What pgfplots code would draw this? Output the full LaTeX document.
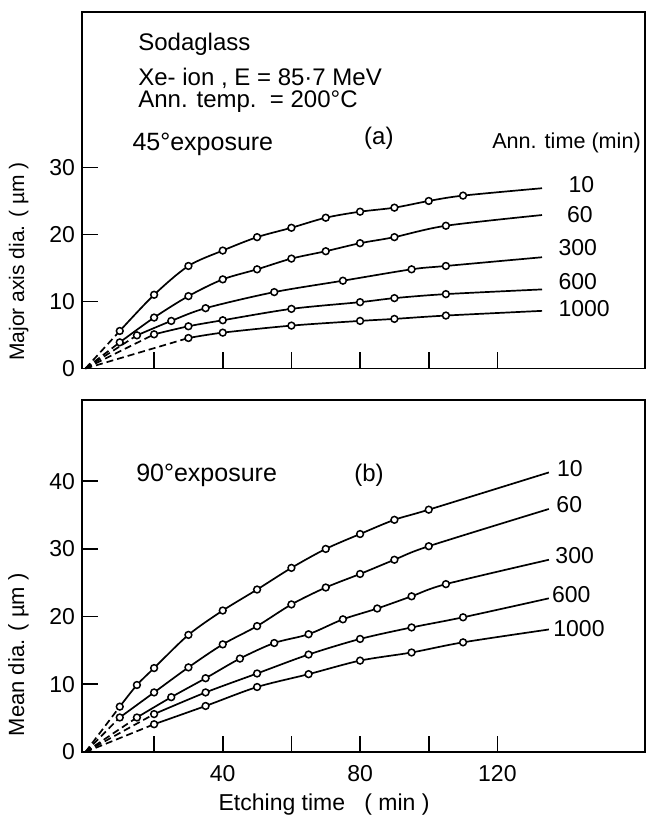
\documentclass[border=0pt]{standalone}
\usepackage{fontspec}
\setmainfont{Liberation Sans}
\usepackage{pgfplots}
\pgfplotsset{compat=1.18}
\begin{document}
\begin{tikzpicture}
\useasboundingbox (0pt,0pt) rectangle (323pt,409pt);
\pgfplotsset{
  panel/.style={
    scale only axis, width=281.5pt,
    xmin=-1, xmax=163,
    axis line style={line width=0.85pt},
    tick align=inside, major tick length=8pt,
    xtick pos=bottom, ytick pos=left,
    tick style={line width=0.85pt, black},
    xtick={20,40,...,120},
    ticklabel style={font=\fontsize{11.5}{12}\selectfont},
    /pgf/number format/assume math mode=true,
    clip=false,
  },
  crv/.style={smooth, no marks, solid, line width=0.85pt, black},
  dsh/.style={no marks, line width=0.85pt, black, dash pattern=on 3.5pt off 2pt},
  pts/.style={only marks, mark=*, mark size=1.7pt, mark options={fill=white, draw=black, solid, line width=0.75pt}},
}
\tikzset{
  lab/.style={anchor=west, inner sep=0pt, font=\fontsize{11.5}{12}\selectfont},
  txt/.style={anchor=base west, inner sep=0pt, font=\fontsize{12}{14}\selectfont},
}
% ---------------- top panel (a) ----------------
\begin{axis}[panel, at={(41pt,224.75pt)}, anchor=south west, height=178.25pt,
  ymin=0, ymax=53.2, ytick={0,10,20,30}, xticklabels={},
  ylabel={Major axis dia. ( µm )},
  ylabel style={at={(axis description cs:-0.103,0.30)}, anchor=base, font=\fontsize{10.5}{12}\selectfont}]
% 10 min
\addplot[dsh] coordinates {(0,0) (10,5.6)};
\addplot[crv] coordinates {(10,5.6) (20,11.0) (30,15.3) (40,17.6) (50,19.6) (60,21.0) (70,22.5) (80,23.4) (90,24.0) (100,25.0) (110,25.8) (133,26.9)};
\addplot[pts] coordinates {(10,5.6) (20,11.0) (30,15.3) (40,17.6) (50,19.6) (60,21.0) (70,22.5) (80,23.4) (90,24.0) (100,25.0) (110,25.8)};
% 60 min
\addplot[dsh] coordinates {(0,0) (10,3.9)};
\addplot[crv] coordinates {(10,3.9) (20,7.6) (30,10.8) (40,13.3) (50,14.8) (60,16.4) (70,17.5) (80,18.7) (90,19.6) (105,21.3) (133,22.9)};
\addplot[pts] coordinates {(10,3.9) (20,7.6) (30,10.8) (40,13.3) (50,14.8) (60,16.4) (70,17.5) (80,18.7) (90,19.6) (105,21.3)};
% 300 min
\addplot[dsh] coordinates {(0,0) (15,4.95)};
\addplot[crv] coordinates {(15,4.95) (25,7.1) (35,9.0) (55,11.4) (75,13.1) (95,14.8) (105,15.3) (133,16.6)};
\addplot[pts] coordinates {(15,4.95) (25,7.1) (35,9.0) (55,11.4) (75,13.1) (95,14.8) (105,15.3)};
% 600 min
\addplot[dsh] coordinates {(0,0) (20,5.1)};
\addplot[crv] coordinates {(20,5.1) (30,6.3) (40,7.2) (60,8.9) (80,9.9) (90,10.5) (105,11.1) (133,11.8)};
\addplot[pts] coordinates {(20,5.1) (30,6.3) (40,7.2) (60,8.9) (80,9.9) (90,10.5) (105,11.1)};
% 1000 min
\addplot[dsh] coordinates {(0,0) (30,4.55)};
\addplot[crv] coordinates {(30,4.55) (40,5.35) (60,6.4) (80,7.1) (90,7.4) (105,7.9) (133,8.6)};
\addplot[pts] coordinates {(30,4.55) (40,5.35) (60,6.4) (80,7.1) (90,7.4) (105,7.9)};
% texts
\node[txt] at (axis cs:15.3,47.5) {Sodaglass};
\node[txt] at (axis cs:15.3,42.3) {Xe- ion , E = 85·7 MeV};
\node[txt] at (axis cs:15.3,39.0) {Ann. temp.\ \ = 200°C};
\node[txt, font=\fontsize{12.5}{14}\selectfont] at (axis cs:13.6,32.6) {45°exposure};
\node[txt] at (axis cs:81.1,33.4) {(a)};
\node[anchor=base west, inner sep=0pt, font=\fontsize{10.8}{12}\selectfont] at (axis cs:118.4,32.9) {Ann. time (min)};
\node[lab] at (axis cs:140.6,27.4) {10};
\node[lab] at (axis cs:140.2,22.9) {60};
\node[lab] at (axis cs:137.7,18.0) {300};
\node[lab] at (axis cs:137.7,13.0) {600};
\node[lab] at (axis cs:137.7,9.0) {1000};
\end{axis}
% ---------------- bottom panel (b) ----------------
\begin{axis}[panel, at={(41pt,33pt)}, anchor=south west, height=176pt,
  ymin=0, ymax=52, ytick={0,10,20,30,40}, xticklabels={,40,,80,,120},
  xticklabel style={yshift=-3pt},
  ylabel={Mean dia. ( µm )},
  ylabel style={at={(axis description cs:-0.103,0.276)}, anchor=base, font=\fontsize{11}{12}\selectfont},
  xlabel={Etching time\ \ \ ( min )},
  xlabel style={at={(axis description cs:0.43,-0.165)}, anchor=base, font=\fontsize{11.5}{12}\selectfont}]
% 10 min
\addplot[dsh] coordinates {(0,0) (10,6.7)};
\addplot[crv] coordinates {(10,6.7) (15,9.9) (20,12.4) (30,17.3) (40,20.9) (50,24.0) (60,27.2) (70,30.0) (80,32.2) (90,34.3) (100,35.8) (135,41.3)};
\addplot[pts] coordinates {(10,6.7) (15,9.9) (20,12.4) (30,17.3) (40,20.9) (50,24.0) (60,27.2) (70,30.0) (80,32.2) (90,34.3) (100,35.8)};
% 60 min
\addplot[dsh] coordinates {(0,0) (10,5.1)};
\addplot[crv] coordinates {(10,5.1) (20,8.8) (30,12.5) (40,15.9) (50,18.6) (60,21.8) (70,24.3) (80,26.3) (90,28.4) (100,30.4) (135,35.9)};
\addplot[pts] coordinates {(10,5.1) (20,8.8) (30,12.5) (40,15.9) (50,18.6) (60,21.8) (70,24.3) (80,26.3) (90,28.4) (100,30.4)};
% 300 min
\addplot[dsh] coordinates {(0,0) (15,5.1)};
\addplot[crv] coordinates {(15,5.1) (25,8.1) (35,10.9) (45,13.8) (55,16.1) (65,17.4) (75,19.6) (85,21.2) (95,23.0) (105,24.8) (135,28.4)};
\addplot[pts] coordinates {(15,5.1) (25,8.1) (35,10.9) (45,13.8) (55,16.1) (65,17.4) (75,19.6) (85,21.2) (95,23.0) (105,24.8)};
% 600 min
\addplot[dsh] coordinates {(0,0) (20,5.6)};
\addplot[crv] coordinates {(20,5.6) (35,8.8) (50,11.6) (65,14.4) (80,16.7) (95,18.4) (110,19.9) (135,22.7)};
\addplot[pts] coordinates {(20,5.6) (35,8.8) (50,11.6) (65,14.4) (80,16.7) (95,18.4) (110,19.9)};
% 1000 min
\addplot[dsh] coordinates {(0,0) (20,4.1)};
\addplot[crv] coordinates {(20,4.1) (35,6.8) (50,9.6) (65,11.5) (80,13.5) (95,14.7) (110,16.2) (135,18.1)};
\addplot[pts] coordinates {(20,4.1) (35,6.8) (50,9.6) (65,11.5) (80,13.5) (95,14.7) (110,16.2)};
% texts
\node[txt, font=\fontsize{12.5}{14}\selectfont] at (axis cs:14.7,40.0) {90°exposure};
\node[txt] at (axis cs:78.2,40.0) {(b)};
\node[lab] at (axis cs:137.3,41.8) {10};
\node[lab] at (axis cs:137.1,36.5) {60};
\node[lab] at (axis cs:136.8,29.0) {300};
\node[lab] at (axis cs:135.8,23.3) {600};
\node[lab] at (axis cs:136.2,18.3) {1000};
\end{axis}
\end{tikzpicture}
\end{document}
